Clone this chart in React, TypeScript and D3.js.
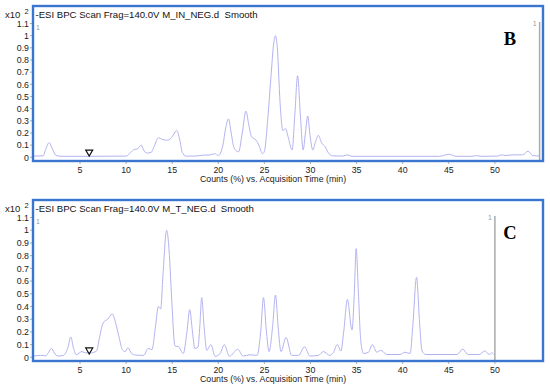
import * as d3 from "d3";

// retention time (min) and relative intensity (x10^2 counts %)
const inTimes = [0, 1.0, 1.3, 1.65, 2.0, 2.4, 3.0, 6, 10.0, 10.5, 10.9, 11.2, 11.4, 11.65, 11.9, 12.2, 12.7, 13.1, 13.5, 14.0, 14.5, 15.0, 15.5, 15.8, 16.1, 16.5, 17.5, 18.4, 19.0, 19.6, 20.0, 20.5, 20.8, 21.1, 21.4, 21.7, 22.2, 22.6, 23.0, 23.3, 23.6, 24.1, 24.4, 24.8, 25.0, 25.4, 25.7, 26.0, 26.2, 26.4, 26.7, 27.0, 27.3, 27.6, 28.0, 28.3, 28.6, 28.9, 29.2, 29.45, 29.7, 29.95, 30.25, 30.55, 30.85, 31.2, 31.6, 32.0, 32.4, 33.5, 34.0, 34.5, 44.0, 45.0, 45.8, 47.5, 48.0, 48.5, 50.3, 50.7, 51.2, 52.0, 53.0, 53.6, 54.1, 54.9];
const inValues = [0.01, 0.012, 0.07, 0.12, 0.07, 0.015, 0.008, 0.008, 0.01, 0.04, 0.065, 0.068, 0.085, 0.1, 0.06, 0.035, 0.04, 0.1, 0.16, 0.145, 0.14, 0.17, 0.22, 0.15, 0.04, 0.01, 0.01, 0.018, 0.018, 0.03, 0.015, 0.1, 0.24, 0.315, 0.2, 0.08, 0.045, 0.2, 0.38, 0.27, 0.17, 0.14, 0.1, 0.03, 0.05, 0.35, 0.65, 0.93, 1.0, 0.9, 0.45, 0.22, 0.235, 0.16, 0.06, 0.35, 0.67, 0.35, 0.06, 0.2, 0.34, 0.18, 0.06, 0.13, 0.18, 0.12, 0.085, 0.03, 0.012, 0.01, 0.02, 0.008, 0.008, 0.025, 0.008, 0.008, 0.014, 0.008, 0.01, 0.02, 0.015, 0.02, 0.02, 0.05, 0.015, 0.01];

const tTimes = [0, 0.7, 1.3, 1.6, 1.9, 2.2, 2.6, 3.2, 3.7, 4.0, 4.3, 4.6, 5.2, 5.6, 6.2, 6.8, 7.1, 7.5, 8.0, 8.5, 8.9, 9.2, 9.6, 9.9, 10.2, 10.6, 11.0, 11.9, 12.4, 12.8, 13.2, 13.5, 13.75, 14.0, 14.4, 14.7, 14.95, 15.3, 15.7, 16.2, 16.6, 16.9, 17.2, 17.45, 17.8, 18.0, 18.2, 18.45, 18.75, 19.2, 19.65, 20.2, 20.65, 21.2, 22.1, 22.7, 23.45, 24.2, 24.6, 24.9, 25.2, 25.5, 25.9, 26.2, 26.5, 26.8, 27.35, 27.95, 28.7, 29.35, 29.95, 30.85, 31.4, 32.1, 32.5, 32.9, 33.3, 33.6, 34.0, 34.5, 34.75, 34.95, 35.2, 35.45, 35.75, 36.3, 36.7, 37.2, 37.6, 38.3, 39.7, 40.25, 40.8, 41.1, 41.5, 41.85, 42.1, 42.5, 45.9, 46.5, 47.1, 48.3, 48.9, 49.4, 49.65, 49.9];
const tValues = [0.01, 0.015, 0.012, 0.04, 0.07, 0.035, 0.01, 0.015, 0.08, 0.16, 0.07, 0.02, 0.045, 0.035, 0.035, 0.05, 0.15, 0.27, 0.3, 0.34, 0.26, 0.17, 0.06, 0.045, 0.075, 0.03, 0.018, 0.015, 0.07, 0.06, 0.25, 0.4, 0.38, 0.65, 1.0, 0.8, 0.45, 0.09, 0.083, 0.03, 0.2, 0.375, 0.2, 0.07, 0.08, 0.25, 0.47, 0.25, 0.055, 0.1, 0.008, 0.03, 0.1, 0.008, 0.063, 0.01, 0.02, 0.015, 0.2, 0.47, 0.22, 0.045, 0.25, 0.49, 0.23, 0.045, 0.157, 0.015, 0.015, 0.083, 0.01, 0.015, 0.045, 0.015, 0.04, 0.1, 0.05, 0.2, 0.455, 0.215, 0.5, 0.855, 0.5, 0.13, 0.03, 0.04, 0.1, 0.04, 0.055, 0.022, 0.022, 0.04, 0.03, 0.25, 0.63, 0.25, 0.05, 0.022, 0.022, 0.065, 0.022, 0.022, 0.05, 0.022, 0.035, 0.02];

const yTicks = [0, 0.1, 0.2, 0.3, 0.4, 0.5, 0.6, 0.7, 0.8, 0.9, 1, 1.1];
const xTicks = [5, 10, 15, 20, 25, 30, 35, 40, 45, 50];

const FRAME = "#3a76d0";
const TRACE = "#b3b3f0";
const SANS = "'Liberation Sans', Arial, sans-serif";

interface PanelProps {
  id: string;
  top: number;
  bottom: number;
  title: string;
  letter: string;
  times: number[];
  values: number[];
  cursorX: number;
  markerVal: number;
}

function Panel({ id, top, bottom, title, letter, times, values, cursorX, markerVal }: PanelProps) {
  const left = 33;
  const right = 543;
  const x = d3.scaleLinear().domain([0, 55]).range([33.9, 541]);
  const y = d3.scaleLinear().domain([0, 1.1]).range([bottom - 3.7, top + 17.5]);

  const pts = times.map((t, i) => [t, values[i]] as [number, number]);
  const line = d3.line<[number, number]>()
    .x((d) => x(d[0]))
    .y((d) => y(d[1]))
    .curve(d3.curveMonotoneX);

  const cx = x(cursorX);
  const mx = x(6);
  const my = y(markerVal);

  return (
    <g>
      <defs>
        <clipPath id={`clip-${id}`}>
          <rect x={left} y={top} width={right - left} height={bottom - top} />
        </clipPath>
      </defs>

      {/* y axis */}
      <text x={5} y={top + 12} fontFamily={SANS} fontSize={9.5} fill="#222">x10</text>
      <text x={24.5} y={top + 7.5} fontFamily={SANS} fontSize={7.5} fill="#222">2</text>
      {yTicks.map((v) => (
        <g key={v}>
          <line x1={30} x2={33} y1={y(v)} y2={y(v)} stroke="#999" strokeWidth={0.8} />
          <text x={29} y={y(v) + 3.2} textAnchor="end" fontFamily={SANS} fontSize={8.8} fill="#222">{v}</text>
        </g>
      ))}

      {/* x axis */}
      {xTicks.map((t) => (
        <g key={t}>
          <line x1={x(t)} x2={x(t)} y1={bottom + 1} y2={bottom + 3} stroke="#999" strokeWidth={0.8} />
          <text x={x(t)} y={bottom + 11.5} textAnchor="middle" fontFamily={SANS} fontSize={8.8} fill="#222">{t}</text>
        </g>
      ))}
      <text x={273} y={bottom + 21} textAnchor="middle" fontFamily={SANS} fontSize={8.8} fill="#222">
        Counts (%) vs. Acquisition Time (min)
      </text>

      {/* trace */}
      <path d={line(pts) ?? ""} fill="none" stroke={TRACE} strokeWidth={1} clipPath={`url(#clip-${id})`} />

      {/* cursor line and labels */}
      <line x1={cx} x2={cx} y1={top + 16} y2={bottom - 1} stroke="#aaa" strokeWidth={1.5} />
      <text x={cx - 3} y={top + 20} textAnchor="end" fontFamily={SANS} fontSize={7} fill="#999">1</text>
      <text x={36} y={top + 23.5} fontFamily={SANS} fontSize={7} fill="#999">1</text>

      {/* marker */}
      <path d={`M${mx - 3.5},${my - 3} L${mx + 3.5},${my - 3} L${mx},${my + 3} Z`} fill="none" stroke="#111" strokeWidth={1.2} />

      {/* header */}
      <text x={35.5} y={top + 12} fontFamily={SANS} fontSize={9.6} fill="#111" style={{ whiteSpace: "pre" }}>{title}</text>

      <rect x={left} y={top} width={right - left} height={bottom - top} fill="none" stroke={FRAME} strokeWidth={2.4} />

      <text x={510} y={top + 38.5} textAnchor="middle" fontFamily="'Liberation Serif', 'DejaVu Serif', serif" fontWeight="bold" fontSize={18.5} fill="#000">
        {letter}
      </text>
    </g>
  );
}

export default function App() {
  return (
    <svg width={550} height={387} style={{ position: "absolute", left: 0, top: 0, background: "#fff" }}>
      <Panel id="b" top={6} bottom={161} title="-ESI BPC Scan Frag=140.0V M_IN_NEG.d  Smooth" letter="B"
        times={inTimes} values={inValues} cursorX={54.85} markerVal={0.035} />
      <Panel id="c" top={200} bottom={361} title="-ESI BPC Scan Frag=140.0V M_T_NEG.d  Smooth" letter="C"
        times={tTimes} values={tValues} cursorX={50} markerVal={0.05} />
    </svg>
  );
}
